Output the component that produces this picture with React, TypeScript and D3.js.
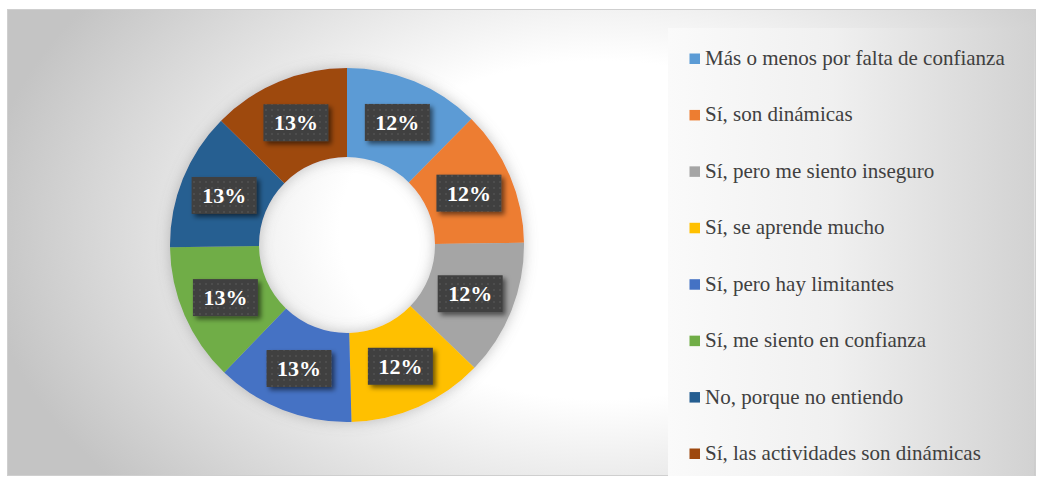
import React from "react";
import * as d3 from "d3";

const categories = [
  "Más o menos por falta de confianza",
  "Sí, son dinámicas",
  "Sí, pero me siento inseguro",
  "Sí, se aprende mucho",
  "Sí, pero hay limitantes",
  "Sí, me siento en confianza",
  "No, porque no entiendo",
  "Sí, las actividades son dinámicas",
];
const values = [12.4, 12.4, 12.4, 12.4, 12.6, 12.6, 12.6, 12.6];
const colors = ["#5B9BD5", "#ED7D31", "#A5A5A5", "#FFC000", "#4472C4", "#70AD47", "#255E91", "#9E480E"];

const W = 1038;
const H = 477;
const cx = 347;
const cy = 245;
const outerR = 177;
const innerR = 88;

export default function App() {
  const total = d3.sum(values);
  const pie = d3.pie<number>().sort(null).value((d) => d).startAngle(0).endAngle(2 * Math.PI);
  const arcs = pie(values);
  const arcGen = d3.arc<d3.PieArcDatum<number>>().innerRadius(innerR).outerRadius(outerR);
  const legendY = d3.scalePoint<number>().domain(d3.range(categories.length)).range([65, 460]);
  const fmt = (v: number) => `${Math.round((v / total) * 100)}%`;

  return (
    <div>
      <svg width={W} height={H} style={{ position: "absolute", left: 0, top: 0 }}>
        <defs>
          <radialGradient id="bg" gradientUnits="userSpaceOnUse" cx={600} cy={230} r={620} gradientTransform="translate(600 230) scale(1 0.65) translate(-600 -230)">
            <stop offset="0" stopColor="#ffffff" />
            <stop offset="0.42" stopColor="#ffffff" />
            <stop offset="1" stopColor="#c4c4c4" />
          </radialGradient>
          <linearGradient id="lg" x1="0" x2="1" y1="0" y2="0">
            <stop offset="0" stopColor="#fafafa" />
            <stop offset="0.45" stopColor="#f0f0f0" />
            <stop offset="1" stopColor="#d2d2d2" />
          </linearGradient>
          <filter id="glow" x="-20%" y="-20%" width="140%" height="140%">
            <feDropShadow dx="0" dy="0" stdDeviation="7" floodColor="#7a7a7a" floodOpacity="0.45" />
          </filter>
          <filter id="lblShadow" x="-30%" y="-30%" width="160%" height="170%">
            <feDropShadow dx="3" dy="3" stdDeviation="2.5" floodColor="#000" floodOpacity="0.55" />
          </filter>
          <pattern id="dots" width="6" height="6" patternUnits="userSpaceOnUse">
            <rect width="6" height="6" fill="#404040" />
            <rect x="2" y="2" width="2" height="2" fill="#4e4e4e" />
          </pattern>
        </defs>

        <rect x={7.5} y={9.5} width={1028} height={466} fill="url(#bg)" stroke="#cfcfcf" strokeWidth={1} />
        <rect x={668} y={28} width={366} height={448} fill="url(#lg)" />

        <g transform={`translate(${cx},${cy})`}>
          <g filter="url(#glow)">
            {arcs.map((a, i) => (
              <path key={i} d={arcGen(a) || ""} fill={colors[i]} />
            ))}
          </g>
          {arcs.map((a, i) => {
            const [x, y] = arcGen.centroid(a);
            return (
              <rect key={"b" + i} x={x - 32.5} y={y - 18.5} width={65} height={37} fill="url(#dots)" filter="url(#lblShadow)" />
            );
          })}
        </g>

        {categories.map((c, i) => {
          const y = legendY(i) as number;
          return <rect key={"m" + i} x={689.5} y={y - 11.5} width={10.5} height={10.5} fill={colors[i]} />;
        })}
      </svg>

      <svg width={W} height={H} style={{ position: "absolute", left: 0, top: 0 }}>
        <g transform={`translate(${cx},${cy})`}>
          {arcs.map((a, i) => {
            const [x, y] = arcGen.centroid(a);
            return (
              <text key={"t" + i} x={x} y={y + 7.5} textAnchor="middle" fontSize={22} fontWeight="bold" fill="#ffffff" style={{ fontFamily: "Liberation Serif" }}>
                {fmt(values[i])}
              </text>
            );
          })}
        </g>
        {categories.map((c, i) => {
          const y = legendY(i) as number;
          return (
            <text key={"lt" + i} x={705} y={y} fontSize={21} fill="#404040" style={{ fontFamily: "Liberation Serif" }}>
              {c}
            </text>
          );
        })}
      </svg>
    </div>
  );
}
